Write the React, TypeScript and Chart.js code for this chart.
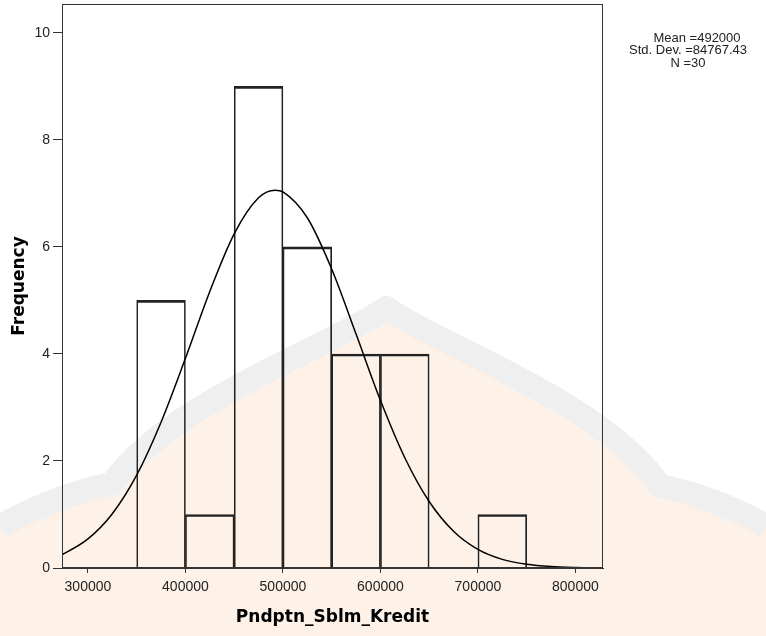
import React, { useEffect, useRef } from "react";
import { Chart, registerables } from "chart.js";

Chart.register(...registerables);

// ---- data ----
const binCenters = [375000, 425000, 475000, 525000, 575000, 625000, 675000, 725000, 775000];
const frequencies = [5, 1, 9, 6, 4, 4, 0, 1, 0];

// normal curve
const curveX = [270000, 275000, 300000, 325000, 350000, 375000, 400000, 425000, 450000, 475000, 492000, 500000, 525000, 550000, 575000, 600000, 625000, 650000, 675000, 700000, 725000, 750000, 775000, 800000, 830000];
const curveY = [0.229, 0.266, 0.543, 1.015, 1.736, 2.725, 3.918, 5.168, 6.245, 6.919, 7.06, 7.029, 6.545, 5.587, 4.372, 3.134, 2.061, 1.243, 0.687, 0.348, 0.161, 0.069, 0.027, 0.01, 0.002];

const xTicks = [300000, 400000, 500000, 600000, 700000, 800000];
const yTicks = [0, 2, 4, 6, 8, 10];
const xMin = 273400;
const xMax = 828300;
const yMin = 0;
const yMax = 10.54;

const xTitle = "Pndptn_Sblm_Kredit";
const yTitle = "Frequency";
const statsLines = ["Mean =492000", "Std. Dev. =84767.43", "N =30"];
const statsX = [697, 688, 688];

const watermarkPlugin = {
  id: "watermark",
  beforeDraw(chart: any) {
    const ctx = chart.ctx;
    ctx.save();
    ctx.fillStyle = "#ffffff";
    ctx.fillRect(0, 0, chart.width, chart.height);
    const path = () => {
      ctx.beginPath();
      ctx.moveTo(0, 526);
      ctx.quadraticCurveTo(60, 494, 112, 484);
      ctx.bezierCurveTo(170, 402, 330, 347, 386, 308);
      ctx.bezierCurveTo(442, 347, 602, 402, 660, 486);
      ctx.quadraticCurveTo(712, 496, 766, 526);
    };
    path();
    ctx.lineTo(766, 636);
    ctx.lineTo(0, 636);
    ctx.closePath();
    ctx.fillStyle = "#fdf1e8";
    ctx.fill();
    path();
    ctx.strokeStyle = "#efefef";
    ctx.lineWidth = 24;
    ctx.lineJoin = "round";
    ctx.stroke();
    ctx.restore();
  },
};

const framePlugin = {
  id: "frame",
  afterDraw(chart: any) {
    const { ctx, chartArea } = chart;
    ctx.save();
    ctx.strokeStyle = "#333333";
    ctx.lineWidth = 1;
    ctx.strokeRect(
      Math.round(chartArea.left) + 0.5,
      Math.round(chartArea.top) + 0.5,
      Math.round(chartArea.right - chartArea.left) - 1,
      Math.round(chartArea.bottom - chartArea.top) - 1
    );
    ctx.fillStyle = "#222222";
    ctx.font = "13px 'Liberation Sans', Arial, sans-serif";
    ctx.textAlign = "center";
    ctx.textBaseline = "middle";
    statsLines.forEach((t, i) => {
      ctx.fillText(t, statsX[i], 38 + i * 12.7);
    });
    ctx.restore();
  },
};

export default function App() {
  const ref = useRef<HTMLCanvasElement | null>(null);

  useEffect(() => {
    if (!ref.current) return;
    const tickFont = { family: "'Liberation Sans', Arial, sans-serif", size: 14 };
    const titleFont = { family: "'DejaVu Sans', sans-serif", size: 17, weight: "bold" as const };
    const chart = new Chart(ref.current, {
      type: "bar",
      data: {
        datasets: [
          {
            type: "line" as const,
            label: "Normal",
            data: curveX.map((x, i) => ({ x, y: curveY[i] })),
            borderColor: "#000000",
            borderWidth: 1.5,
            pointRadius: 0,
            cubicInterpolationMode: "monotone" as const,
            fill: false,
            order: 0,
          },
          {
            type: "bar" as const,
            label: "Frequency",
            data: binCenters.map((x, i) => ({ x, y: frequencies[i] })),
            backgroundColor: "rgba(0,0,0,0)",
            borderColor: "#222222",
            borderWidth: { top: 2, left: 1, right: 1, bottom: 0 },
            borderSkipped: false,
            barPercentage: 1,
            categoryPercentage: 1,
            order: 1,
          },
        ],
      } as any,
      options: {
        responsive: false,
        animation: false,
        devicePixelRatio: 1,
        layout: { padding: { top: 4, right: 163, bottom: 0, left: 0 } },
        plugins: {
          legend: { display: false },
          tooltip: { enabled: false },
        },
        scales: {
          x: {
            type: "linear",
            position: "bottom",
            offset: false,
            min: xMin,
            max: xMax,
            afterBuildTicks: (s: any) => {
              s.ticks = xTicks.map((v) => ({ value: v }));
            },
            afterFit: (s: any) => {
              s.height = 68;
              s.paddingLeft = 0;
              s.paddingRight = 0;
            },
            grid: { offset: false, drawOnChartArea: false, drawTicks: true, tickLength: 5, color: "#333333" },
            border: { color: "#333333", width: 1 },
            ticks: {
              font: tickFont,
              color: "#222222",
              padding: 6,
              maxRotation: 0,
              autoSkip: false,
              callback: (v: any) => String(v),
            },
            title: {
              display: true,
              text: xTitle,
              font: titleFont,
              color: "#000000",
              padding: { top: 0, bottom: 8 },
            },
          },
          y: {
            type: "linear",
            min: yMin,
            max: yMax,
            afterBuildTicks: (s: any) => {
              s.ticks = yTicks.map((v) => ({ value: v }));
            },
            afterFit: (s: any) => {
              s.width = 62;
              s.paddingTop = 0;
              s.paddingBottom = 0;
            },
            grid: { drawOnChartArea: false, drawTicks: true, tickLength: 9, color: "#333333" },
            border: { color: "#333333", width: 1 },
            ticks: {
              font: tickFont,
              color: "#222222",
              padding: 3,
              callback: (v: any) => String(v),
            },
            title: {
              display: true,
              text: yTitle,
              font: titleFont,
              color: "#000000",
              padding: { top: 9, bottom: 0 },
            },
          },
        },
      } as any,
      plugins: [watermarkPlugin, framePlugin],
    });
    return () => chart.destroy();
  }, []);

  return (
    <div style={{ position: "absolute", left: 0, top: 0, width: 766, height: 636 }}>
      <canvas ref={ref} width={766} height={636} style={{ width: 766, height: 636 }} />
    </div>
  );
}
